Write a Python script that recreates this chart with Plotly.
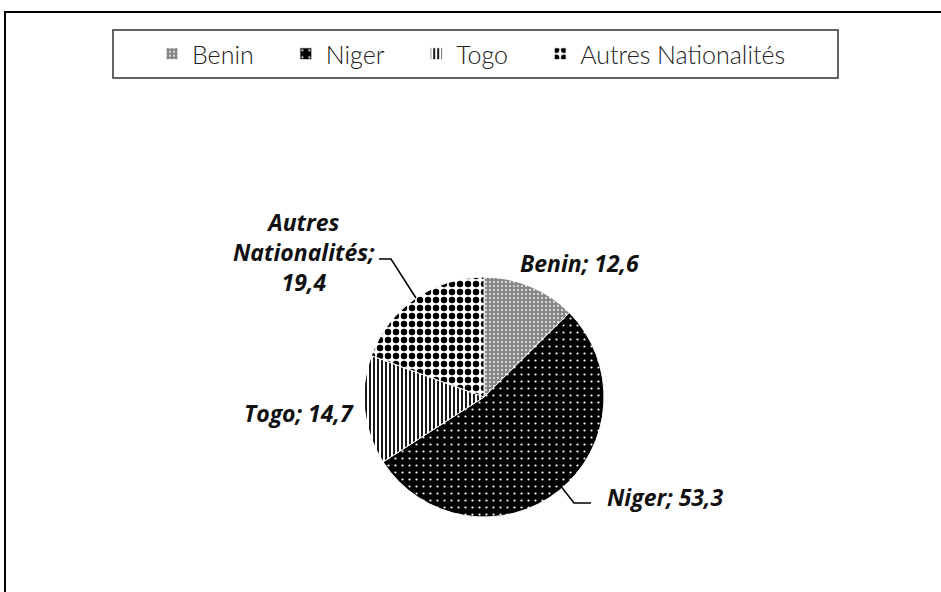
import plotly.graph_objects as go

# ---- data ----
categories = ["Benin", "Niger", "Togo", "Autres Nationalités"]
values = [12.6, 53.3, 14.7, 19.4]
label_names = ["Benin", "Niger", "Togo", "Autres<br>Nationalités"]

W, H = 941, 592


def px(x):
    return x / W


def py(y):
    return 1 - y / H


def fmt(v):
    return f"{v:.1f}".replace(".", ",")


# legend entries: pad the first ones with no-break spaces to spread them out
NBSP = "\u00a0"
legend_labels = [c + NBSP * 4 if i < len(categories) - 1 else c
                 for i, c in enumerate(categories)]

# pie placement (pixels): centre and radius
cx, cy, r = 484, 397, 120

fig = go.Figure()
fig.add_trace(go.Pie(
    labels=legend_labels,
    values=values,
    sort=False,
    direction="clockwise",
    rotation=0,
    textinfo="none",
    hoverinfo="label+value",
    domain=dict(x=[px(cx - r), px(cx + r)], y=[py(cy + r), py(cy - r)]),
    marker=dict(
        colors=["#858585", "#000000", "#ffffff", "#ffffff"],
        line=dict(color="white", width=1),
        pattern=dict(
            shape=[".", ".", "|", "."],
            fgcolor=["#d8d8d8", "#ffffff", "#000000", "#000000"],
            bgcolor=["#858585", "#000000", "#ffffff", "#ffffff"],
            size=[4, 7, 4, 8],
            solidity=[0.25, 0.08, 0.45, 0.5],
            fillmode="replace",
        ),
    ),
))

# labels (text from data)
lab_font = dict(family="Open Sans", size=23, color="#111111")
label_pos = [(579, 263), (665, 497), (299, 413), (304, 252)]
for name, v, (lx, ly) in zip(label_names, values, label_pos):
    fig.add_annotation(
        x=px(lx), y=py(ly), xref="paper", yref="paper",
        text=f"<b><i>{name};<br>{fmt(v)}</i></b>" if "<br>" in name
        else f"<b><i>{name}; {fmt(v)}</i></b>",
        showarrow=False, font=lab_font, align="center",
        xanchor="center", yanchor="middle",
    )

shapes = [
    # outer frame
    dict(type="rect", xref="paper", yref="paper", x0=px(5), y0=py(600), x1=px(950), y1=py(12),
         line=dict(color="black", width=2)),
    # legend box
    dict(type="rect", xref="paper", yref="paper", x0=px(113), y0=py(78), x1=px(838), y1=py(30),
         line=dict(color="#333333", width=1.5)),
    # leader lines
    dict(type="path", xref="paper", yref="paper",
         path=f"M {px(379)},{py(259)} L {px(391)},{py(259)} L {px(416)},{py(298)}",
         line=dict(color="black", width=1.5)),
    dict(type="path", xref="paper", yref="paper",
         path=f"M {px(556)},{py(480)} L {px(574)},{py(503)} L {px(591)},{py(503)}",
         line=dict(color="black", width=1.5)),
]

fig.update_layout(
    width=W, height=H,
    margin=dict(l=0, r=0, t=0, b=0),
    paper_bgcolor="white",
    plot_bgcolor="white",
    shapes=shapes,
    showlegend=True,
    legend=dict(
        orientation="h",
        x=px(152), xanchor="left",
        y=py(54), yanchor="middle",
        font=dict(family="Lato", size=25, color="#222222", weight=300),
        bgcolor="rgba(0,0,0,0)",
        borderwidth=0,
        traceorder="normal",
    ),
)

fig.write_html("out.html", config={"displayModeBar": False},
               post_script="document.body.style.margin='0';")
